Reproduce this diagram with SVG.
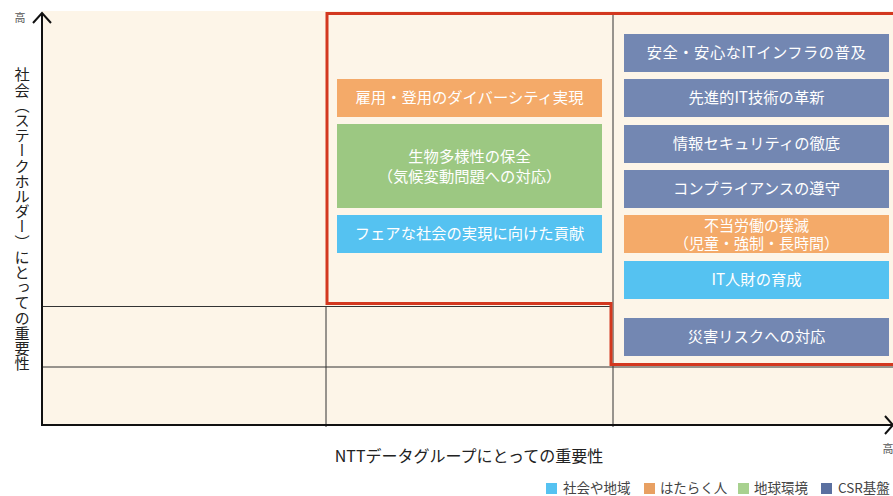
<svg xmlns="http://www.w3.org/2000/svg" width="893" height="496" viewBox="0 0 893 496">
<style>
.bt{font-family:"Noto Sans CJK JP","Noto Sans",sans-serif;font-size:15.3px;fill:#ffffff;text-anchor:middle}
.b2{font-size:15px}
.grid{stroke:#333;stroke-width:1;fill:none}
.axis{stroke:#111;stroke-width:2;fill:none}
.lg{font-family:"Noto Sans CJK JP","Noto Sans",sans-serif;font-size:13.5px;fill:#444}
.hi{font-family:"Noto Sans CJK JP","Noto Sans",sans-serif;font-size:11px;fill:#555}
.csr{fill:#7387B2}.work{fill:#F4AA69}.earth{fill:#9CC882}.soc{fill:#55C2F1}
</style>
<rect x="0" y="0" width="893" height="496" fill="#fff"/>
<rect x="42" y="11" width="851" height="414" fill="#FDF5E8"/>
<g id="grid">
<line class="grid" x1="42" y1="306.5" x2="611" y2="306.5"/>
<line class="grid" x1="42" y1="367" x2="893" y2="367"/>
<line class="grid" x1="326" y1="306" x2="326" y2="427"/>
<line class="grid" x1="613" y1="12" x2="613" y2="427"/>
</g>
<path d="M893 13.5H327V303.5H611V364.5H893" fill="none" stroke="#D3381F" stroke-width="3"/>
<g id="axes">
<line class="axis" x1="42" y1="13" x2="42" y2="425"/>
<polyline class="axis" points="33,23 42,13 51,23"/>
<line class="axis" x1="41" y1="425" x2="892" y2="425"/>
<polyline class="axis" points="885,416 893,425 885,434"/>
</g>
<text class="hi" x="20" y="22" text-anchor="middle">高</text>
<text class="hi" x="888" y="453" text-anchor="middle">高</text>
<text x="22" y="67" style="font-family:'Noto Sans CJK JP',sans-serif;font-size:15.2px;fill:#222;writing-mode:vertical-rl">社会（ステークホルダー）にとっての重要性</text>
<text x="469" y="462" text-anchor="middle" style="font-family:'Noto Sans CJK JP',sans-serif;font-size:16px;fill:#222">NTTデータグループにとっての重要性</text>
<g id="n1"><rect class="work" x="337" y="79" width="265" height="38"/><text class="bt" x="469.5" y="103">雇用・登用のダイバーシティ実現</text></g>
<g id="n2"><rect class="earth" x="337" y="124" width="265" height="84"/><text class="bt" x="469.5" y="162">生物多様性の保全</text><text class="bt" x="469.5" y="182">（気候変動問題への対応）</text></g>
<g id="n3"><rect class="soc" x="337" y="215" width="265" height="38"/><text class="bt" x="469.5" y="239">フェアな社会の実現に向けた貢献</text></g>
<g id="n4"><rect class="csr" x="624" y="34" width="265" height="38"/><text class="bt" x="756.5" y="58" letter-spacing="0.5">安全・安心なITインフラの普及</text></g>
<g id="n5"><rect class="csr" x="624" y="79" width="265" height="38"/><text class="bt" x="756.5" y="103">先進的IT技術の革新</text></g>
<g id="n6"><rect class="csr" x="624" y="125" width="265" height="38"/><text class="bt" x="756.5" y="149">情報セキュリティの徹底</text></g>
<g id="n7"><rect class="csr" x="624" y="170" width="265" height="38"/><text class="bt" x="756.5" y="194">コンプライアンスの遵守</text></g>
<g id="n8"><rect class="work" x="624" y="215" width="265" height="38"/><text class="bt b2" x="756.5" y="230.5">不当労働の撲滅</text><text class="bt b2" x="756.5" y="248.5">（児童・強制・長時間）</text></g>
<g id="n9"><rect class="soc" x="624" y="261" width="265" height="38"/><text class="bt" x="756.5" y="285">IT人財の育成</text></g>
<g id="n10"><rect class="csr" x="624" y="318" width="265" height="38"/><text class="bt" x="756.5" y="342">災害リスクへの対応</text></g>
<g id="legend">
<rect x="546" y="483" width="11" height="11" fill="#55C2F1"/><text class="lg" x="563" y="492.5">社会や地域</text>
<rect x="644" y="483" width="11" height="11" fill="#E8A062"/><text class="lg" x="660" y="492.5">はたらく人</text>
<rect x="738" y="483" width="11" height="11" fill="#A8D18F"/><text class="lg" x="754" y="492.5">地球環境</text>
<rect x="821" y="483" width="11" height="11" fill="#5A70A0"/><text class="lg" x="838" y="492.5">CSR基盤</text>
</g>
</svg>
